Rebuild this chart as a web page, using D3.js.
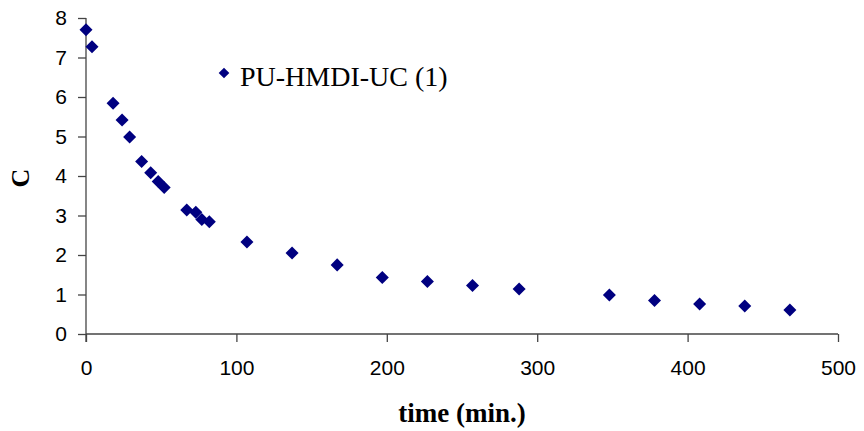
<!DOCTYPE html>
<html>
<head>
<meta charset="utf-8">
<script src="https://cdn.jsdelivr.net/npm/d3@7"></script>
<style>
  body { margin: 0; background: #fff; }
  svg { display: block; }
</style>
</head>
<body>
<div id="chart"></div>
<script>
"use strict";

// values
const seriesName = "PU-HMDI-UC (1)";
const timeValues = [0, 4, 18, 24, 29, 37, 43, 48, 52, 67, 73, 77, 82, 107, 137, 167, 197, 227, 257, 288, 348, 378, 408, 438, 468];
const cValues = [7.70, 7.27, 5.84, 5.42, 4.99, 4.37, 4.08, 3.86, 3.71, 3.14, 3.08, 2.90, 2.84, 2.33, 2.05, 1.75, 1.43, 1.33, 1.23, 1.14, 0.99, 0.85, 0.76, 0.71, 0.61];
const xTicks = [0, 100, 200, 300, 400, 500];
const yTicks = [0, 1, 2, 3, 4, 5, 6, 7, 8];

const width = 864, height = 431;
const margin = { left: 86, right: 26, top: 18, bottom: 97 };

let svg = d3.select("#chart").append("svg")
    .attr("width", width)
    .attr("height", height);

let x = d3.scaleLinear()
    .domain([0, 500])
    .range([margin.left, width - margin.right]);

let y = d3.scaleLinear()
    .domain([0, 8])
    .range([height - margin.bottom, margin.top]);

let axisColor = "#444";

// x axis
let xAxis = svg.append("g")
    .attr("transform", `translate(0,${y(0)})`)
    .call(d3.axisBottom(x).tickValues(xTicks).tickSize(8).tickPadding(18));

// y axis
let yAxis = svg.append("g")
    .attr("transform", `translate(${x(0)},0)`)
    .call(d3.axisLeft(y).tickValues(yTicks).tickSize(8).tickPadding(11));

[xAxis, yAxis].forEach(function(g) {
    g.select(".domain").attr("stroke", axisColor).attr("stroke-width", 1.3);
    g.selectAll(".tick line").attr("stroke", axisColor).attr("stroke-width", 1.3);
    g.selectAll(".tick text")
        .attr("fill", "#000")
        .style("font-family", "'Liberation Sans', Arial, sans-serif")
        .style("font-size", "21px");
});
// extend y axis line down to the x tick length
yAxis.select(".domain").attr("d", `M0,${y(8)}V${y(0) + 8}`);
xAxis.select(".domain").attr("d", `M${x(0)},0H${x(500)}`);

// diamonds
let diamond = d3.symbol().type(d3.symbolDiamond2).size(108);

svg.append("g")
    .selectAll("path")
    .data(timeValues.map((t, i) => ({ t: t, c: cValues[i] })))
    .enter().append("path")
    .attr("d", diamond)
    .attr("transform", d => `translate(${x(d.t)},${y(d.c)})`)
    .attr("fill", "#000080");

// legend
svg.append("path")
    .attr("d", d3.symbol().type(d3.symbolDiamond2).size(72))
    .attr("transform", "translate(224,73)")
    .attr("fill", "#000080");

svg.append("text")
    .attr("x", 240)
    .attr("y", 86)
    .style("font-family", "'Liberation Serif', 'Times New Roman', serif")
    .style("font-size", "28px")
    .text(seriesName);

// axis titles
svg.append("text")
    .attr("x", 462)
    .attr("y", 422)
    .attr("text-anchor", "middle")
    .style("font-family", "'Liberation Serif', 'Times New Roman', serif")
    .style("font-weight", "bold")
    .style("font-size", "27px")
    .text("time (min.)");

svg.append("text")
    .attr("transform", "translate(29,178) rotate(-90)")
    .attr("text-anchor", "middle")
    .style("font-family", "'Liberation Serif', 'Times New Roman', serif")
    .style("font-weight", "bold")
    .style("font-size", "26px")
    .text("C");
</script>
</body>
</html>
